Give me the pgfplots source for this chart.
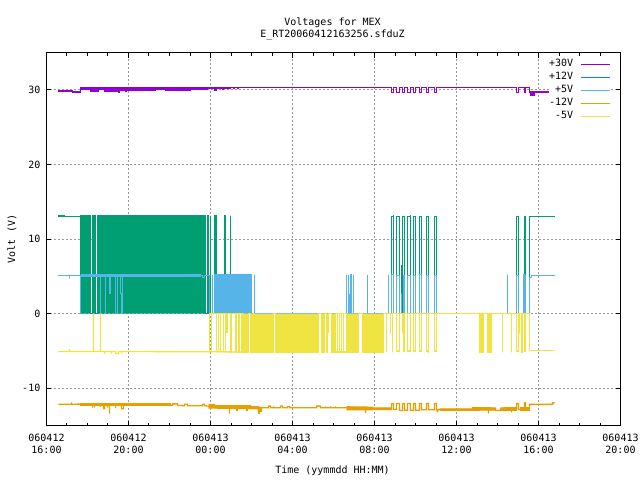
\documentclass[border=0pt]{standalone}
\usepackage{fontspec}
\setmainfont{DejaVu Sans Mono}
\usepackage{pgfplots}
\pgfplotsset{compat=1.18}
\definecolor{c30}{HTML}{9400D3}
\definecolor{c12}{HTML}{009E73}
\definecolor{c5}{HTML}{56B4E9}
\definecolor{cm12}{HTML}{E69F00}
\definecolor{cm5}{HTML}{F0E442}
% time axis is counted in steps of 1/20.5 hour, 46 = 060412 16:00
\begin{document}
\begin{tikzpicture}
\path[use as bounding box] (-46.5pt,-54.5pt) rectangle (593.5pt,425.5pt);
\begin{axis}[
    scale only axis,
    width=574pt,
    height=373pt,
    xmin=46, xmax=620,
    ymin=-15, ymax=35,
    xtick={46,128,210,292,374,456,538,620},
    xticklabels={060412\\16:00,060412\\20:00,060413\\00:00,060413\\04:00,060413\\08:00,060413\\12:00,060413\\16:00,060413\\20:00},
    minor x tick num=3,
    ytick={-10,0,10,20,30},
    yticklabels={-10,0,10,20,30},
    tick align=inside,
    major tick length=5pt,
    minor tick length=3pt,
    tick style={black,line width=1pt},
    axis line style={line width=1pt},
    grid=major,
    grid style={line width=1pt,draw=black!40,dash pattern=on 2pt off 2pt},
    title={Voltages for MEX\\E\_RT20060412163256.sfduZ},
    title style={align=center,at={(axis description cs:0.4983,1)},anchor=south,yshift=6pt,inner sep=0pt},
    xlabel={Time (yymmdd HH:MM)},
    xlabel style={at={(axis description cs:0.4983,0)},anchor=center,yshift=-45.5pt,inner sep=0pt},
    ylabel={Volt (V)},
    ylabel style={at={(axis description cs:-0.0601,0.5)},anchor=center,inner sep=0pt},
    xticklabel style={align=center,inner sep=0pt,yshift=-8pt},
    yticklabel style={inner sep=0pt,xshift=-6pt},
    legend style={at={(0.9826,0.9860)},anchor=north east,draw=none,fill=white,inner sep=0pt,
        cells={anchor=east},column sep=0pt,row sep=0pt,
        nodes={inner sep=0pt,text height=9pt,text depth=4pt}},
    legend plot pos=right,
    legend image code/.code={\path (0pt,0pt); \draw[#1,line width=1pt] (7pt,0pt) -- (36pt,0pt);},
    every axis plot/.append style={line width=1.3pt,no markers},
]
% +30 V
\addplot[c30] coordinates {
    (58,29.85)(72,29.85)(72,29.7)(80,29.7)(80,30.35)(391,30.35)(391,29.6)(393,29.6)(393,30.35)
    (396,30.35)(396,29.6)(399,29.6)(399,30.35)(402,30.35)(402,29.6)(404,29.6)(404,30.35)
    (407,30.35)(407,29.6)(410,29.6)(410,30.35)(413,30.35)(413,29.6)(415,29.6)(415,30.35)
    (419,30.35)(419,29.6)(421,29.6)(421,30.35)(426,30.35)(426,29.6)(428,29.6)(428,30.35)
    (434,30.35)(434,29.6)(436,29.6)(436,30.35)(516,30.35)(516,29.6)(518,29.6)(518,30.35)
    (524,30.35)(524,29.6)(525,29.6)(525,30.35)(529,30.35)(529,29.7)(554,29.7)};
\addlegendentry{+30V}
\addplot[c30,fill=c30,forget plot] coordinates {
    (80,30.35)(80,30)(85,30)(85,30.05)(90,30.05)(90,29.85)(98,29.85)(98,30)(104,30)
    (104,29.75)(110,29.75)(110,29.85)(118,29.85)(118,29.7)(119,29.7)(119,29.9)(125,29.9)(125,29.75)
    (126,29.75)(126,29.9)(155,29.9)(155,30)(165,30)(165,29.95)(190,29.95)(190,30.05)(207,30.05)
    (207,30.15)(214,30.15)(214,29.9)(216,29.9)(216,30.15)(222,30.15)(222,30)(223,30)
    (223,30.15)(230,30.15)(230,30.35)(233,30.35)(233,30.15)(234,30.15)(234,30.35)(237,30.35)
    (237,30.15)(238,30.15)(238,30.35)};
\addplot[c30,fill=c30,forget plot] coordinates {(529,29.7)(534,29.7)(534,29.3)(529,29.3)};
% +12 V
\addplot[c12] coordinates {
    (58,13.07)(64,13.07)(64,12.97)(80,12.97)(80,0)};
\addlegendentry{+12V}
\addplot[c12,fill=c12,forget plot] coordinates {
    (80,0)(80,13.1)(90,13.1)(90,0)(92,0)(92,13.1)(95,13.1)(95,0)(97,0)(97,13.1)(205,13.1)(205,0)
    (207,0)(207,13.1)(208,13.1)(208,0)(210,0)(210,13.1)(210,0)(214,0)(214,13.1)(216,13.1)(216,0)
    (224,0)(224,13.1)(225,13.1)(225,0)(230,0)(230,13.1)(230,0)};
\addplot[c12,forget plot] coordinates {
    (391,0)(391,12.97)(393,12.97)(393,13.2)(393,0)(396,0)(396,12.97)(399,12.97)(399,0)
    (401,0)(401,6.5)(401,0)(402,0)(402,12.97)(404,12.97)(404,0)(407,0)(407,13)(410,13)(410,13.2)(410,0)
    (413,0)(413,13)(415,13)(415,0)(419,0)(419,13)(421,13)(421,0)(426,0)(426,13)(428,13)(428,0)
    (434,0)(434,13)(436,13)(436,0)(516,0)(516,13)(518,13)(518,0)(524,0)(524,13)(525,13)(525,0)
    (529,0)(529,12.97)(554,12.97)};
% +5 V
\addplot[c5] coordinates {
    (58,5.08)(69,5.08)(69,4.7)(69,5.08)(80,5.08)(80,0)(80,5.1)(100,5.1)(100,0)(100,5.1)(105,5.1)
    (105,0)(105,5.1)(109,5.1)(109,2.67)(110,2.67)(110,5.1)(115,5.1)(115,0)(115,5.1)(117,5.1)
    (117,0)(117,5.1)(120,5.1)(120,2.67)(121,2.67)(121,0)(122,0)(122,5.1)(202,5.1)(202,4.8)(204,4.8)
    (204,5.1)(209,5.1)(209,0)(212,0)(212,5.2)(212,0)(214,0)};
\addlegendentry{+5V}
\addplot[c5,line width=2.2pt,forget plot] coordinates {(81,5.1)(200,5.1)};
\addplot[c5,fill=c5,forget plot] coordinates {(214,0)(214,5.2)(251,5.2)(251,0)};
\addplot[c5,forget plot] coordinates {
    (254,0)(254,5.2)(254,0)(346,0)(346,5.2)(346,0)(348,0)(348,5.2)(348,0)(349,0)(349,2.67)(349,0)
    (350,0)(350,5.2)(351,5.2)(351,0)(353,0)(353,5.2)(353,0)(367,0)(367,5.2)(367,0)(388,0)(388,5.2)(388,0)
    (391,0)(391,5.2)(393,5.2)(393,0)(396,0)(396,5.1)(399,5.1)(399,0)(401,0)(401,2.67)(401,0)
    (403,0)(403,5.1)(404,5.1)(404,0)(407,0)(407,5.15)(410,5.15)(410,0)(413,0)(413,5.15)(415,5.15)(415,0)
    (419,0)(419,5.2)(421,5.2)(421,0)(426,0)(426,5.15)(428,5.15)(428,0)(434,0)(434,5.15)(436,5.15)(436,0)
    (507,0)(507,5.2)(507,0)(516,0)(516,5.15)(518,5.15)(518,0)(523,0)(523,5.2)(524,5.2)(524,0)(525,0)(525,5.2)(525,0)
    (529,0)(529,4.8)(531,4.8)(531,5.08)(554,5.08)};
% -12 V
\addplot[cm12] coordinates {
    (58,-12.16)(71,-12.16)(71,-11.9)(71,-12.16)(78,-12.16)(78,-12)(78,-12.16)(80,-12.16)(80,-12.25)
    (92,-12.25)(92,-12.6)(92,-12.25)(94,-12.25)(94,-12.6)(94,-12.25)(100,-12.25)(100,-12.5)(100,-12.25)
    (103,-12.25)(103,-12.75)(104,-12.75)(104,-12.25)(107,-12.25)(107,-12.6)(107,-12.25)(109,-12.25)(109,-13.4)(109,-12.25)
    (115,-12.25)(115,-12.7)(115,-12.25)(121,-12.25)(121,-12.75)(123,-12.75)(123,-12.25)(170,-12.3)
    (172,-12.3)(172,-12.1)(177,-12.1)(177,-12.3)(184,-12.35)(184,-12.15)(187,-12.15)(187,-12.35)
    (202,-12.35)(202,-12.15)(204,-12.15)(204,-12.35)(208,-12.4)(229,-12.45)(229,-13.4)(229,-12.45)
    (236,-12.6)(236,-13)(237,-13)(237,-12.6)(246,-12.6)(246,-13)(247,-13)(247,-12.6)(258,-12.6)(258,-13.35)(259,-13.35)(259,-12.6)
    (260,-12.6)(260,-13.1)(261,-13.1)(261,-12.6)(263,-12.6)(263,-12.63)
    (268,-12.63)(268,-12.4)(270,-12.4)(270,-12.63)(273,-12.63)(273,-12.45)(273,-12.63)(280,-12.63)(280,-12.4)(282,-12.4)(282,-12.63)
    (287,-12.63)(287,-12.45)(289,-12.45)(289,-12.63)(316,-12.63)(316,-12.4)(320,-12.4)(320,-12.63)
    (325,-12.63)(325,-12.45)(325,-12.63)(330,-12.63)(330,-12.45)(330,-12.63)(335,-12.63)(335,-12.45)(335,-12.63)(346,-12.63)
    (365,-12.7)(365,-13.3)(365,-12.7)(372,-12.7)(390,-12.8)
    (391,-12.85)(391,-12.1)(393,-12.05)(393,-12.85)(396,-12.85)(396,-12.05)(399,-12.05)(399,-13)(402,-13)(402,-12.05)(404,-12.05)(404,-12.95)
    (407,-12.95)(407,-12.05)(410,-12.05)(410,-12.95)(413,-12.95)(413,-12.05)(415,-12.05)(415,-12.95)
    (419,-12.95)(419,-12.05)(421,-12.05)(421,-12.9)(426,-12.9)(426,-12.05)(428,-12.05)(428,-12.9)
    (434,-12.9)(434,-12.05)(436,-12.05)(436,-12.85)(437,-13.1)(438,-12.85)(472,-12.85)
    (488,-12.85)(488,-13.4)(488,-12.85)(495,-12.85)(495,-13)(500,-13)(500,-12.8)(511,-12.8)(511,-13.25)(511,-12.8)
    (516,-12.8)(516,-12.05)(518,-12.05)(518,-12.85)(524,-12.85)(524,-11.95)(525,-11.95)(525,-12.85)
    (529,-12.85)(529,-12.17)(552,-12.17)(552,-11.97)(554,-11.97)};
\addlegendentry{-12V}
\addplot[cm12,fill=cm12,forget plot] coordinates {(80,-12.13)(170,-12.13)(170,-12.33)(80,-12.33)};
\addplot[cm12,fill=cm12,forget plot] coordinates {(208,-12.2)(214,-12.2)(214,-12.35)(250,-12.35)(250,-12.5)(258,-12.5)(258,-12.75)(208,-12.65)};
\addplot[cm12,fill=cm12,forget plot] coordinates {(346,-12.5)(372,-12.55)(372,-12.65)(390,-12.65)(390,-12.85)(372,-12.85)(372,-12.9)(346,-12.9)};
\addplot[cm12,fill=cm12,forget plot] coordinates {(439,-12.78)(472,-12.78)(472,-12.6)(495,-12.65)(495,-12.9)(472,-12.95)(439,-12.95)};
\addplot[cm12,fill=cm12,forget plot] coordinates {(500,-12.65)(516,-12.6)(516,-12.95)(500,-12.95)};
\addplot[cm12,fill=cm12,forget plot] coordinates {(519,-12.65)(529,-12.65)(529,-13)(519,-13)};
% -5 V
\addplot[cm5] coordinates {
    (58,-5.08)(69,-5.08)(69,-4.75)(69,-5.08)(93,-5.08)(93,0)(93,-5.08)(100,-5.08)(100,0)(100,-5.08)
    (104,-5.08)(104,-5.4)(104,-5.08)(111,-5.08)(111,-5.35)(111,-5.08)(115,-5.08)(115,-5.35)(118,-5.35)(118,-5.08)
    (121,-5.08)(121,-5.35)(121,-5.08)(216,-5.12)(248,-5.15)};
\addlegendentry{-5V}
\addplot[cm5,fill=cm5,forget plot] coordinates {
    (209,0)(209,-5.2)(209,0)(211,0)(211,-5.2)(211,0)(216,0)(216,-5.2)(216,0)(218,0)(218,-5.2)(218,0)
    (220,0)(220,-5.2)(220,0)(223,0)(223,-5.2)(223,0)(225,0)(225,-5.2)(225,0)(226,0)(226,-2.5)(227,-2.5)(227,0)
    (230,0)(230,-5.2)(231,-5.2)(231,0)(235,0)(235,-5.2)(236,-5.2)(236,0)(238,0)(238,-5.2)(239,-5.2)(239,0)
    (241,0)(241,-5.2)(242,-5.2)(242,0)(243,0)(243,-5.2)(248,-5.2)(248,0)(250,0)(250,-5.2)(273,-5.2)(273,0)
    (275,0)(275,-5.2)(318,-5.2)(318,0)(321,0)(321,-5.2)(324,-5.2)(324,0)(326,0)(326,-5.2)(327,-5.2)(327,-2.5)(328,-2.5)(328,0)
    (331,0)(331,-5.2)(335,-5.2)(335,0)(337,0)(337,-5.2)(337,0)(339,0)(339,-5.2)(339,0)(341,0)(341,-5.2)(341,0)
    (343,0)(343,-5.2)(343,0)(346,0)(346,-5.2)(358,-5.2)(358,0)(362,0)(362,-5.2)(383,-5.2)(383,0)
    (386,0)(386,-5.2)(386,0)(479,0)(479,-5.2)(481,-5.2)(481,-2.6)(482,-2.6)(482,-5.2)(483,-5.2)(483,0)
    (487,0)(487,-5.2)(491,-5.2)(491,0)(502,0)(502,-5.2)(502,0)(511,0)(511,-5.2)(511,0)(529,0)};
\addplot[cm5,forget plot] coordinates {(331,-5.15)(345,-5.15)};
\addplot[cm5,forget plot] coordinates {
    (390,0)(390,-2.7)(390,0)(392,0)(392,-5.2)(392,0)(396,0)(396,-5)(399,-5)(399,0)(402,0)(402,-2.6)(402,0)
    (403,0)(403,-5)(404,-5)(404,0)(407,0)(407,-5)(410,-5)(410,-5.2)(410,0)(413,0)(413,-5)(415,-5)(415,0)
    (419,0)(419,-5)(421,-5)(421,0)(426,0)(426,-5)(428,-5)(428,-5.3)(428,0)(434,0)(434,-5)(436,-5)(436,0)
    (516,0)(516,-5)(518,-5)(518,-5.2)(518,0)(519,0)(519,-2.7)(519,0)(521,0)(521,-5.2)(522,-5.2)(522,0)
    (524,0)(524,-5)(525,-5)(525,0)(529,0)(529,-4.95)(554,-4.95)};
\end{axis}
\end{tikzpicture}
\end{document}
